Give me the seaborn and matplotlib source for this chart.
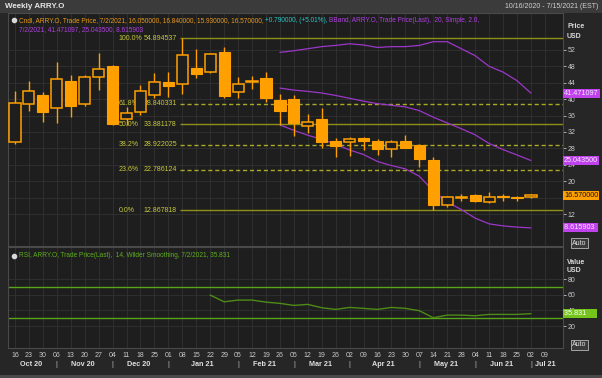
import numpy as np
import pandas as pd
import matplotlib
matplotlib.use("Agg")
import matplotlib.pyplot as plt
import matplotlib.transforms as mtransforms
from matplotlib.patches import Rectangle
import seaborn as sns

# ---------------- data ----------------
week_dates = ['2020-10-16', '2020-10-23', '2020-10-30', '2020-11-06', '2020-11-13', '2020-11-20',
              '2020-11-27', '2020-12-04', '2020-12-11', '2020-12-18', '2020-12-25', '2021-01-01',
              '2021-01-08', '2021-01-15', '2021-01-22', '2021-01-29', '2021-02-05', '2021-02-12',
              '2021-02-19', '2021-02-26', '2021-03-05', '2021-03-12', '2021-03-19', '2021-03-26',
              '2021-04-02', '2021-04-09', '2021-04-16', '2021-04-23', '2021-04-30', '2021-05-07',
              '2021-05-14', '2021-05-21', '2021-05-28', '2021-06-04', '2021-06-11', '2021-06-18',
              '2021-06-25', '2021-07-02', '2021-07-09']
opens = [29.5, 38.9, 41.0, 37.8, 44.4, 38.8, 45.5, 48.2, 35.1, 36.8, 41.0, 44.3, 43.6, 47.7,
         46.7, 51.6, 41.8, 44.2, 45.1, 39.8, 40.0, 33.5, 35.1, 29.8, 29.5, 30.6, 29.8, 27.9,
         29.8, 28.8, 25.2, 14.2, 16.0, 16.6, 15.0, 16.3, 16.1, 16.05]
highs = [42.1, 44.5, 41.8, 49.0, 45.9, 45.9, 51.2, 48.3, 38.2, 43.5, 46.3, 46.7, 54.894537, 52.2,
         51.2, 52.8, 45.3, 45.7, 46.5, 41.3, 41.0, 36.4, 37.8, 30.5, 30.7, 30.7, 30.3, 30.0,
         31.3, 29.0, 25.8, 16.3, 16.9, 16.9, 17.3, 16.9, 16.4, 16.84]
lows = [29.1, 37.2, 34.5, 34.1, 35.7, 38.4, 42.2, 33.7, 33.7, 36.1, 40.2, 40.6, 41.2, 45.1,
        46.3, 40.4, 40.2, 42.5, 39.2, 33.7, 30.9, 31.7, 28.0, 26.0, 26.1, 27.6, 26.4, 25.8,
        28.0, 23.5, 12.867818, 13.6, 15.2, 15.0, 14.6, 15.2, 15.2, 15.93]
closes = [39.0, 42.0, 36.8, 44.9, 38.4, 45.3, 47.3, 34.0, 36.6, 42.0, 44.1, 43.2, 50.8, 46.1,
          51.0, 40.8, 43.7, 44.4, 40.2, 37.1, 34.3, 34.5, 29.6, 28.6, 30.2, 29.8, 27.8, 29.5,
          28.2, 25.3, 14.2, 16.2, 16.2, 15.1, 16.1, 16.2, 15.78, 16.57]
nan = np.nan
bb_upper = [nan] * 19 + [51.4, 51.8, 52.3, 52.8, 53.1, 53.5, 53.2, 52.6, 52.8, 52.8, 53.1,
                         54.0, 54.0, 52.3, 50.6, 48.0, 46.6, 44.5, 41.471097]
bb_middle = [nan] * 19 + [42.7, 42.2, 41.9, 41.5, 40.9, 40.2, 39.5, 38.9, 38.5, 38.1, 37.2,
                          35.6, 34.2, 32.8, 31.3, 29.2, 27.7, 26.4, 25.0435]
bb_lower = [nan] * 19 + [33.7, 32.4, 31.2, 30.2, 29.0, 27.6, 26.5, 24.8, 23.8, 23.0, 21.2,
                         17.6, 14.9, 13.1, 11.0, 9.6, 9.1, 8.8, 8.615903]
rsi = [nan] * 14 + [59.6, 51.0, 53.2, 53.2, 50.6, 49.0, 46.4, 47.7, 43.4, 41.3, 43.8, 42.6,
                    41.3, 43.8, 42.6, 39.6, 30.6, 34.0, 34.0, 33.2, 34.9, 34.9, 34.9, 35.831]
fib_pcts = ['100.0%', '61.8%', '50.0%', '38.2%', '23.6%', '0.0%']
fib_levels = [54.894537, 38.840331, 33.881178, 28.922025, 22.786124, 12.867818]
fib_dashed = [False, True, False, True, True, False]
price_ticks = [12, 16, 20, 24, 28, 32, 36, 40, 44, 48, 52]
rsi_ticks = [20, 40, 60, 80]
rsi_bands = [70, 30]

# ---------------- style ----------------
sns.set_theme(style="dark")
plt.rcParams['font.family'] = ['Liberation Sans Narrow', 'Liberation Sans', 'DejaVu Sans']
FIG_BG = '#262626'
AX_BG = '#1e1e1e'
GRID = '#323232'
ORANGE = '#ffa000'
PURPLE = '#9b37c9'
TXT = '#c8c8c8'
FIB_TXT = '#c9c93a'

W, H = 602, 378
fig = plt.figure(figsize=(W / 100, H / 100), dpi=100, facecolor=FIG_BG)


def fx(px):
    return px / W


def fy(py):
    return 1 - py / H


ax = fig.add_axes([fx(8), fy(246), fx(563 - 8), fy(13) - fy(246)], facecolor=AX_BG)
ax2 = fig.add_axes([fx(8), fy(348), fx(563 - 8), fy(247) - fy(348)], facecolor=AX_BG, sharex=ax)

dates = pd.to_datetime(week_dates)
n = len(opens)
xi = np.arange(n)
o = np.array(opens); c = np.array(closes); hi = np.array(highs); lo = np.array(lows)
up = c >= o

# header strip
fig.patches.append(Rectangle((0, fy(13)), 1, 1 - fy(13), transform=fig.transFigure,
                             facecolor='#3b3b3b', edgecolor='none', zorder=0))
fig.text(fx(5), fy(7), 'Weekly ARRY.O', color='#e6e6e6', fontsize=5.8, fontweight='bold',
         va='center', ha='left')
fig.text(fx(598), fy(7), '10/16/2020 - 7/15/2021 (EST)', color='#d0d0d0', fontsize=5,
         va='center', ha='right')

# gridlines / axes styling
for a in (ax, ax2):
    a.set_xticks(np.arange(len(week_dates)))
    a.grid(True, color=GRID, linewidth=0.6)
    a.set_axisbelow(True)
    for s in a.spines.values():
        s.set_color('#4a4a4a')
        s.set_linewidth(0.8)
    a.yaxis.tick_right()
    a.tick_params(axis='y', colors=TXT, labelsize=5, length=2.5, width=0.6, direction='out', pad=1)
    a.tick_params(axis='x', colors=TXT, labelsize=5, length=2, width=0.6, direction='out', pad=1)

# fib lines
fib_start = int(np.argmax(hi)) - 0.2
for pct, lvl, dashed in zip(fib_pcts, fib_levels, fib_dashed):
    ax.hlines(lvl, fib_start, 40, color='#a9a925' if dashed else '#8f8f1c',
              linestyles=(0, (3, 2)) if dashed else 'solid', linewidth=1.0, zorder=2)
    ax.annotate(pct, (fib_start, lvl), xytext=(-44, 0), textcoords='offset points',
                color=FIB_TXT, fontsize=5, va='center', ha='left')
    ax.annotate(f'{lvl:.6f}', (fib_start, lvl), xytext=(-26, 0), textcoords='offset points',
                color=FIB_TXT, fontsize=5, va='center', ha='left')

# Bollinger bands
bb_df = pd.DataFrame({'x': xi, 'upper': bb_upper, 'middle': bb_middle, 'lower': bb_lower})
for col in ['upper', 'middle', 'lower']:
    sns.lineplot(data=bb_df, x='x', y=col, ax=ax, color=PURPLE, linewidth=0.9, zorder=2.5)

# candles
bw = 0.8
ax.vlines(xi, lo, hi, color=ORANGE, linewidth=1.0, zorder=3)
bottoms = np.minimum(o, c)
heights = np.maximum(np.abs(c - o), 0.12)
ax.bar(xi[up], heights[up], bottom=bottoms[up], width=bw, facecolor=AX_BG, edgecolor=ORANGE,
       linewidth=1.1, zorder=4)
ax.bar(xi[~up], heights[~up], bottom=bottoms[~up], width=bw, facecolor=ORANGE, edgecolor=ORANGE,
       linewidth=0.8, zorder=4)

ax.set_xlim(-0.5, 39.3)
ax.set_ylim(4.2, 61.0)
ax.set_yticks(price_ticks)
ax.set_yticklabels([str(t) for t in price_ticks])
ax.tick_params(axis='x', labelbottom=False, length=0)
ax.set_xlabel(''); ax.set_ylabel('')

# legend lines (price)
LFS = 4.7
t0 = ax.text(0.019, 0.982, 'Cndl, ARRY.O, Trade Price, 7/2/2021, 16.050000, 16.840000, 15.930000, 16.570000, ',
             transform=ax.transAxes, color='#e89a1a', fontsize=LFS, va='top', ha='left')
t1 = ax.annotate('+0.790000, (+5.01%), ', xy=(1, 0), xycoords=t0, va='bottom', ha='left',
                 color='#2ec4c4', fontsize=LFS)
t2 = ax.annotate('BBand, ARRY.O, Trade Price(Last),  20, Simple, 2.0,', xy=(1, 0), xycoords=t1,
                 va='bottom', ha='left', color='#b040e0', fontsize=LFS)
ax.text(0.019, 0.944, '7/2/2021, 41.471097, 25.043500, 8.615903', transform=ax.transAxes,
        color='#b040e0', fontsize=LFS, va='top', ha='left')
ax.plot([0.011], [0.972], marker='o', markersize=3, color='#d8d8d8', transform=ax.transAxes,
        clip_on=False)

# RSI panel
rsi_df = pd.DataFrame({'x': xi, 'rsi': rsi})
sns.lineplot(data=rsi_df, x='x', y='rsi', ax=ax2, color='#4d8c16', linewidth=1.0, zorder=3)
for b in rsi_bands:
    ax2.axhline(b, color='#57a61a', linewidth=1.0, zorder=2)
ax2.set_ylim(-8, 121)
ax2.set_yticks(rsi_ticks)
ax2.set_yticklabels([str(t) for t in rsi_ticks])
ax2.set_xticklabels([d[-2:] for d in week_dates])
ax2.set_xlabel(''); ax2.set_ylabel('')
ax2.text(0.019, 0.955, 'RSI, ARRY.O, Trade Price(Last),  14, Wilder Smoothing, 7/2/2021, 35.831',
         transform=ax2.transAxes, color='#5fae1e', fontsize=LFS, va='top', ha='left')
ax2.plot([0.011], [0.915], marker='o', markersize=3, color='#d8d8d8', transform=ax2.transAxes,
         clip_on=False)

# month labels & separators
months = dates.to_period('M')
starts = [i for i in range(len(dates)) if i == 0 or months[i] != months[i - 1]]
trans = mtransforms.blended_transform_factory(ax2.transData, fig.transFigure)
bounds = [-0.5] + starts[1:] + [39.3]
for k, s in enumerate(starts):
    left = bounds[k]
    right = bounds[k + 1]
    lab = dates[s].strftime('%b %y')
    fig.text((left + right) / 2 - 0.1, fy(364), lab, transform=trans, color='#e0e0e0',
             fontsize=5.2, fontweight='bold', ha='center', va='center')
    if k > 0:
        fig.text(s, fy(364), '|', transform=trans, color='#bdbdbd', fontsize=5.5,
                 ha='center', va='center')

# right-side axis titles
for yy, t in [(27, 'Price'), (36, 'USD'), (262, 'Value'), (271, 'USD')]:
    fig.text(fx(567), fy(yy), t, color='#d8d8d8', fontsize=5, fontweight='bold',
             ha='left', va='center')

# value boxes on the right axis
tr = mtransforms.blended_transform_factory(fig.transFigure, ax.transData)
for val, lab, face, tcol in [(bb_upper[-1], '41.471097', '#c042ec', '#f3e6ff'),
                             (bb_middle[-1], '25.043500', '#c042ec', '#f3e6ff'),
                             (closes[-1], '16.570000', ORANGE, '#111111'),
                             (bb_lower[-1], '8.615903', '#c042ec', '#f3e6ff')]:
    ax.text(fx(564), val, lab.ljust(9), transform=tr, fontsize=5.2, color=tcol, ha='left',
            va='center', clip_on=False, zorder=10,
            bbox=dict(boxstyle='square,pad=0.15', facecolor=face, edgecolor='none'))
tr2 = mtransforms.blended_transform_factory(fig.transFigure, ax2.transData)
ax2.text(fx(564), rsi[-1], '35.831     ', transform=tr2, fontsize=5.2, color='#ffffff',
         ha='left', va='center', clip_on=False, zorder=10,
         bbox=dict(boxstyle='square,pad=0.15', facecolor='#74c41c', edgecolor='none'))

# Auto buttons
for yy in (243, 345):
    fig.text(fx(572), fy(yy), 'Auto', color='#e0e0e0', fontsize=5, ha='left', va='center',
             bbox=dict(boxstyle='square,pad=0.15', facecolor='#3a3a3a', edgecolor='#b8b8b8',
                       linewidth=0.6))

fig.patches.append(Rectangle((0, 0), 1, fy(375), transform=fig.transFigure,
                             facecolor='#4a4a4a', edgecolor='none', zorder=0))

fig.savefig('out.png', dpi=100, facecolor=FIG_BG)
